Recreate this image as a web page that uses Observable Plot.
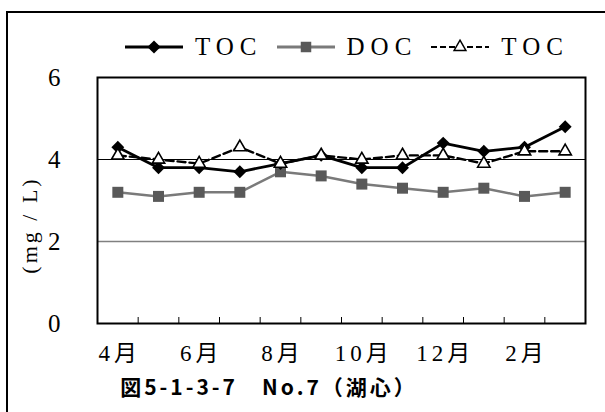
<!DOCTYPE html>
<html>
<head>
<meta charset="utf-8">
<script src="https://cdn.jsdelivr.net/npm/d3@7"></script>
<script src="https://cdn.jsdelivr.net/npm/@observablehq/plot@0.6"></script>
<style>
  html, body { margin: 0; padding: 0; background: #fff; overflow: hidden; }
  #wrap { position: relative; width: 605px; height: 412px; overflow: hidden; }
  #border { position: absolute; left: 6px; top: 11px; width: 640px; height: 440px; border: 2.5px solid #000; box-sizing: border-box; }
  #chart { position: absolute; left: 0; top: 0; }
  .serif { font-family: 'Liberation Serif', 'Noto Sans CJK JP', serif; }
  #legend { position: absolute; left: 125px; top: 30px; display: flex; align-items: center; height: 34px; }
  #legend .txt { font-size: 25px; letter-spacing: 6px; margin-left: 12px; margin-right: 14px; }
  #ylabel { position: absolute; left: 30px; top: 225px; transform: translate(-50%, -50%) rotate(-90deg); font-size: 22px; letter-spacing: 3px; white-space: nowrap; }
  #title { position: absolute; left: 269px; top: 386px; transform: translate(-50%, -50%); font-family: 'Noto Sans CJK JP', sans-serif; font-weight: bold; font-size: 21px; letter-spacing: 3px; white-space: nowrap; }
</style>
</head>
<body>
<div id="wrap">
  <div id="border"></div>
  <div id="chart"></div>
  <div id="legend" class="serif"></div>
  <div id="ylabel" class="serif"></div>
  <div id="title"></div>
</div>
<script>
// ---- data ----
const months = ["4月","5月","6月","7月","8月","9月","10月","11月","12月","1月","2月","3月"];
const tickLabels = ["4月","6月","8月","10月","12月","2月"];
const seriesNames = ["TOC","DOC","TOC"];
const tocValues  = [4.3,3.8,3.8,3.7,3.9,4.1,3.8,3.8,4.4,4.2,4.3,4.8];
const docValues  = [3.2,3.1,3.2,3.2,3.7,3.6,3.4,3.3,3.2,3.3,3.1,3.2];
const toc2Values = [4.1,4.0,3.9,4.3,3.9,4.1,4.0,4.1,4.1,3.9,4.2,4.2];
const yTicks = [0,2,4,6];
const gridValues = [2,4];
const yLabel = "(mg / L)";
const titleText = "図5-1-3-7　No.7（湖心）";

// ---- build tables ----
const idx = months.map((m, i) => i);
const toc  = idx.map(i => ({i, v: tocValues[i]}));
const doc  = idx.map(i => ({i, v: docValues[i]}));
const toc2 = idx.map(i => ({i, v: toc2Values[i]}));
const boundaries = d3.range(months.length + 1).map(k => k - 0.5);
const labelIdx = tickLabels.map(t => months.indexOf(t));

const chart = Plot.plot({
  width: 605,
  height: 412,
  marginLeft: 97,
  marginRight: 20,
  marginTop: 77,
  marginBottom: 89,
  style: {fontFamily: "'Liberation Serif','Noto Sans CJK JP',serif", background: "transparent", color: "#000"},
  x: {domain: [-0.5, months.length - 0.5]},
  y: {domain: [0, 6]},
  marks: [
    Plot.ruleY([gridValues[0]], {stroke: "#808080", strokeWidth: 1.5}),
    Plot.ruleY([gridValues[1]], {stroke: "#000", strokeWidth: 1}),
    Plot.axisY({ticks: yTicks, tickSize: 0, tickPadding: 37, fontSize: 25, tickFormat: d => String(d), label: null}),
    Plot.axisX({ticks: boundaries, tickSize: 6, dy: -6, tickFormat: () => "", label: null, stroke: "#000", strokeWidth: 1}),
    Plot.axisX({ticks: labelIdx, tickSize: 0, tickPadding: 21, fontSize: 23, tickFormat: i => months[i], label: null}),
    Plot.line(doc, {x: "i", y: "v", stroke: "#7a7a7a", strokeWidth: 2.5}),
    Plot.line(toc2, {x: "i", y: "v", stroke: "#000", strokeWidth: 2.4, strokeDasharray: "8,4"}),
    Plot.line(toc, {x: "i", y: "v", stroke: "#000", strokeWidth: 2.8}),
    Plot.dot(doc, {x: "i", y: "v", symbol: "square", r: 6.2, fill: "#595959", stroke: "none"}),
    Plot.dot(toc, {x: "i", y: "v", symbol: "diamond2", r: 5.8, fill: "#000", stroke: "none"}),
    Plot.dot(toc2, {x: "i", y: "v", symbol: "triangle", r: 4.6, fill: "#fff", stroke: "#000", strokeWidth: 1.6}),
    Plot.frame({stroke: "#000", strokeWidth: 2})
  ]
});
document.getElementById("chart").appendChild(chart);
// widen month labels like the reference's spaced glyphs
d3.select(chart).selectAll("g[aria-label='x-axis tick label'] text").attr("letter-spacing", "4px").attr("dx", "2px");

// ---- legend ----
const legend = document.getElementById("legend");
const swatches = [
  {stroke: "#000", dash: null, w: 2.8, sym: "diamond"},
  {stroke: "#7a7a7a", dash: null, w: 2.8, sym: "square"},
  {stroke: "#000", dash: "6,3", w: 2.2, sym: "triangle"}
];
seriesNames.forEach((name, k) => {
  const s = swatches[k];
  const ns = "http://www.w3.org/2000/svg";
  const svg = document.createElementNS(ns, "svg");
  svg.setAttribute("width", 58); svg.setAttribute("height", 20);
  const ln = document.createElementNS(ns, "line");
  ln.setAttribute("x1", 0); ln.setAttribute("x2", 58); ln.setAttribute("y1", 10); ln.setAttribute("y2", 10);
  ln.setAttribute("stroke", s.stroke); ln.setAttribute("stroke-width", s.w);
  if (s.dash) ln.setAttribute("stroke-dasharray", s.dash);
  svg.appendChild(ln);
  const p = document.createElementNS(ns, "path");
  const type = s.sym === "diamond" ? d3.symbolDiamond2 : s.sym === "square" ? d3.symbolSquare : d3.symbolTriangle;
  const size = s.sym === "triangle" ? 60 : (s.sym === "square" ? 110 : 110);
  p.setAttribute("d", d3.symbol(type, size)());
  p.setAttribute("transform", "translate(29,10)");
  if (s.sym === "diamond") p.setAttribute("fill", "#000");
  else if (s.sym === "square") p.setAttribute("fill", "#595959");
  else { p.setAttribute("fill", "#fff"); p.setAttribute("stroke", "#000"); p.setAttribute("stroke-width", 1.5); }
  svg.appendChild(p);
  legend.appendChild(svg);
  const t = document.createElement("span");
  t.className = "txt";
  t.textContent = name;
  legend.appendChild(t);
});

document.getElementById("ylabel").textContent = yLabel;
document.getElementById("title").textContent = titleText;
</script>
</body>
</html>
